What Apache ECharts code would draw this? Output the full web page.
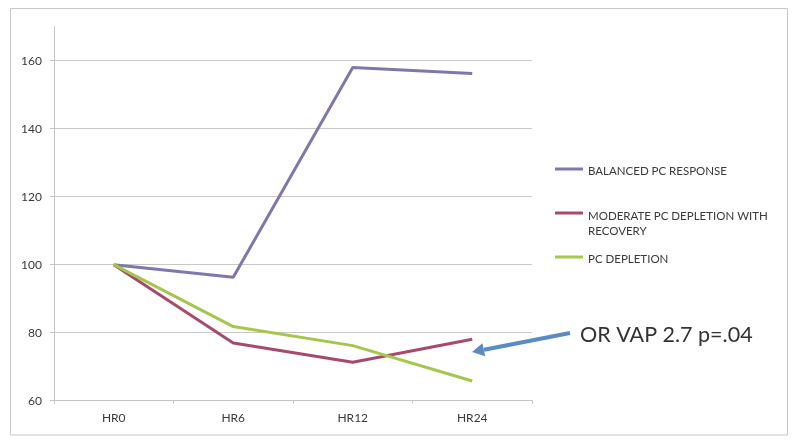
<!DOCTYPE html>
<html>
<head>
<meta charset="utf-8">
<script src="https://cdn.jsdelivr.net/npm/echarts@6/dist/echarts.min.js"></script>
<style>html,body{margin:0;padding:0;background:#fff}#c{width:800px;height:446px}</style>
</head>
<body>
<div id="c"></div>
<script>
var categories = ['HR0', 'HR6', 'HR12', 'HR24'];
var seriesNames = ['BALANCED PC RESPONSE', 'MODERATE PC DEPLETION WITH RECOVERY', 'PC DEPLETION'];
var balanced = [100, 96.3, 158, 156.2];
var moderate = [100, 77, 71.3, 78.1];
var depletion = [100, 81.8, 76.2, 65.8];
var yTicks = {min: 60, max: 170, interval: 20};
var annotationText = 'OR VAP 2.7 p=.04';

var colors = ['#7d78b0', '#a94a6c', '#a4c84c'];
var font = 'Lato';

function legendFor(i, top, spacer) {
  return {
    data: [seriesNames[i]],
    left: 555, top: top, padding: 0,
    icon: 'rect', itemWidth: 28, itemHeight: 3, itemGap: 0,
    selectedMode: false,
    formatter: function (n) {
      if (n === seriesNames[1]) return '{s| }\n{t|MODERATE PC DEPLETION WITH}\n{t|RECOVERY}';
      return '{s| }\n{t|' + n + '}';
    },
    textStyle: {
      fontFamily: font, fontSize: 11.5, color: '#3a3a3a',
      rich: {
        s: {fontSize: 2, lineHeight: spacer, height: spacer},
        t: {fontFamily: font, fontSize: 11.5, color: '#3a3a3a', lineHeight: i === 1 ? 15 : 14}
      }
    }
  };
}

var chart = echarts.init(document.getElementById('c'), null, {renderer: 'canvas'});
chart.setOption({
  animation: false,
  backgroundColor: '#fff',
  grid: {left: 54, right: 268, top: 26.7, bottom: 45.3, containLabel: false},
  xAxis: {
    type: 'category', data: categories, boundaryGap: true,
    axisLine: {lineStyle: {color: '#c4c4c4'}},
    axisTick: {show: true, length: 3, lineStyle: {color: '#c4c4c4'}},
    axisLabel: {fontFamily: font, fontSize: 12, color: '#3a3a3a', margin: 11}
  },
  yAxis: {
    type: 'value', min: yTicks.min, max: yTicks.max, interval: yTicks.interval,
    axisLine: {show: true, lineStyle: {color: '#c4c4c4'}},
    axisTick: {show: true, length: 4, lineStyle: {color: '#c4c4c4'}},
    axisLabel: {fontFamily: font, fontSize: 12, color: '#3a3a3a', margin: 12, showMaxLabel: false},
    splitLine: {show: true, showMaxLine: false, lineStyle: {color: '#c8c8c8'}}
  },
  legend: [legendFor(0, 160, 4), legendFor(1, 187.5, 21), legendFor(2, 248, 4)],
  series: [
    {name: seriesNames[0], type: 'line', data: balanced, symbol: 'none', lineStyle: {width: 3, color: colors[0]}, itemStyle: {color: colors[0]}},
    {name: seriesNames[1], type: 'line', data: moderate, symbol: 'none', lineStyle: {width: 3, color: colors[1]}, itemStyle: {color: colors[1]}},
    {name: seriesNames[2], type: 'line', data: depletion, symbol: 'none', lineStyle: {width: 3, color: colors[2]}, itemStyle: {color: colors[2]}}
  ],
  graphic: [
    {type: 'rect', shape: {x: 10.5, y: 8.5, width: 777, height: 426.5}, style: {fill: null, stroke: '#c8c8c8', lineWidth: 1}, silent: true, z: -1},
    {type: 'line', shape: {x1: 570, y1: 333, x2: 484, y2: 349.7}, style: {stroke: '#5b8bc7', lineWidth: 4}},
    {type: 'polygon', shape: {points: [[472, 352], [485.2, 356.2], [482.4, 343.2]]}, style: {fill: '#5b8bc7'}},
    {type: 'text', left: 580, top: 324, style: {text: annotationText, fontFamily: font, fontSize: 21.5, fill: '#333'}}
  ]
});
</script>
</body>
</html>
